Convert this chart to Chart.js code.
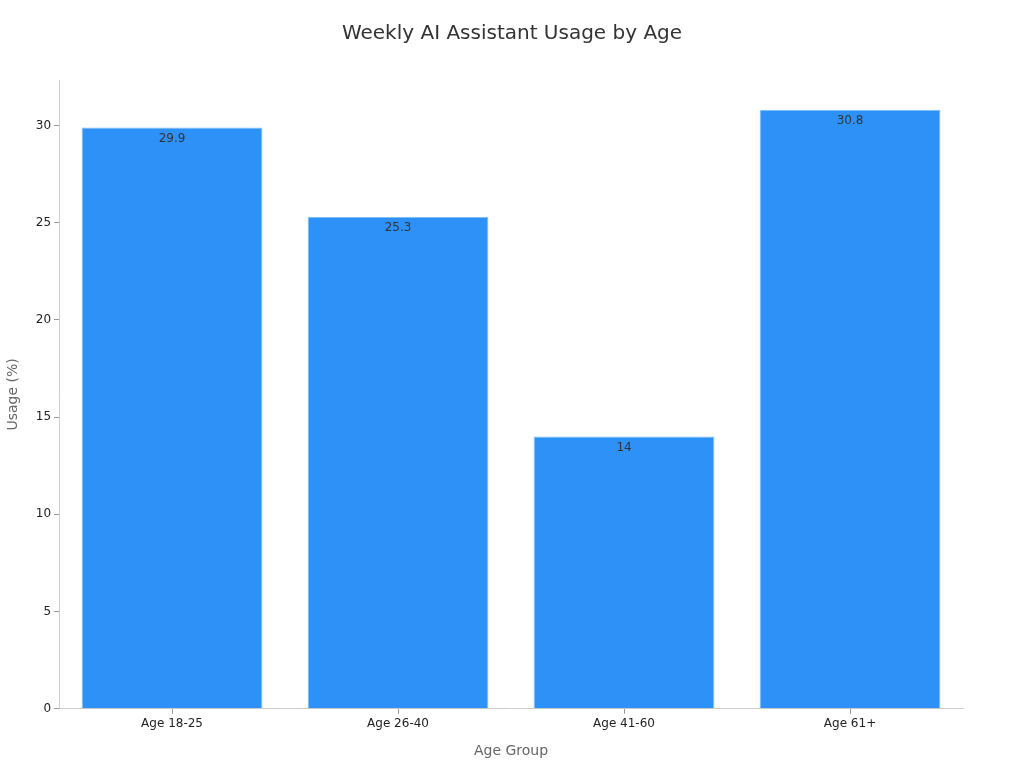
<!DOCTYPE html>
<html>
<head>
<meta charset="utf-8">
<script src="https://cdn.jsdelivr.net/npm/chart.js@4/dist/chart.umd.min.js"></script>
<style>
html,body{margin:0;padding:0;background:#fff;}
#wrap{width:1024px;height:768px;position:relative;}
</style>
</head>
<body>
<div id="wrap"><canvas id="c" width="1024" height="768"></canvas></div>
<script>
const categories = ["Age 18-25", "Age 26-40", "Age 41-60", "Age 61+"];
const usageValues = [29.9, 25.3, 14, 30.8];
const yTicks = [0, 5, 10, 15, 20, 25, 30];
const chartTitle = 'Weekly AI Assistant Usage by Age';

const labelPlugin = {
  id: 'barLabels',
  afterDatasetsDraw(chart) {
    const ctx = chart.ctx;
    const meta = chart.getDatasetMeta(0);
    ctx.save();
    ctx.font = '12px "DejaVu Sans"';
    ctx.fillStyle = '#333333';
    ctx.textAlign = 'center';
    ctx.textBaseline = 'top';
    meta.data.forEach((bar, i) => {
      ctx.fillText(String(usageValues[i]), bar.x, bar.y + 5);
    });
    ctx.restore();
  }
};

const titlePlugin = {
  id: 'centeredTitle',
  afterDraw(chart) {
    const ctx = chart.ctx;
    ctx.save();
    ctx.font = '20px "DejaVu Sans"';
    ctx.fillStyle = '#333333';
    ctx.textAlign = 'center';
    ctx.textBaseline = 'middle';
    ctx.fillText(chartTitle, chart.width / 2, 34);
    ctx.restore();
  }
};

Chart.defaults.font.family = '"DejaVu Sans"';
new Chart(document.getElementById('c'), {
  type: 'bar',
  data: {
    labels: categories,
    datasets: [{
      data: usageValues,
      backgroundColor: '#2E91F8',
      borderColor: '#7FBFFB',
      borderWidth: 1,
      barPercentage: 0.8,
      categoryPercentage: 1.0
    }]
  },
  options: {
    responsive: false,
    animation: false,
    layout: { padding: { top: 80, right: 61, left: 1, bottom: 4 } },
    plugins: {
      legend: { display: false },
      tooltip: { enabled: false },
      title: { display: false }
    },
    scales: {
      x: {
        grid: { display: true, drawOnChartArea: false, offset: false, tickLength: 5, color: '#999999' },
        border: { color: '#cccccc' },
        ticks: { color: '#222222', font: { size: 12 }, padding: 3 },
        title: { display: true, text: 'Age Group', color: '#666666', font: { size: 14 }, padding: { top: 9 } }
      },
      y: {
        min: 0, max: 32.34,
        afterBuildTicks(axis) { axis.ticks = yTicks.map(v => ({ value: v })); },
        grid: { display: true, drawOnChartArea: false, tickLength: 5, color: '#999999' },
        border: { color: '#cccccc' },
        ticks: { color: '#222222', font: { size: 12 }, padding: 3 },
        title: { display: true, text: 'Usage (%)', color: '#666666', font: { size: 14 }, padding: { bottom: 11 } }
      }
    }
  },
  plugins: [labelPlugin, titlePlugin]
});
</script>
</body>
</html>
